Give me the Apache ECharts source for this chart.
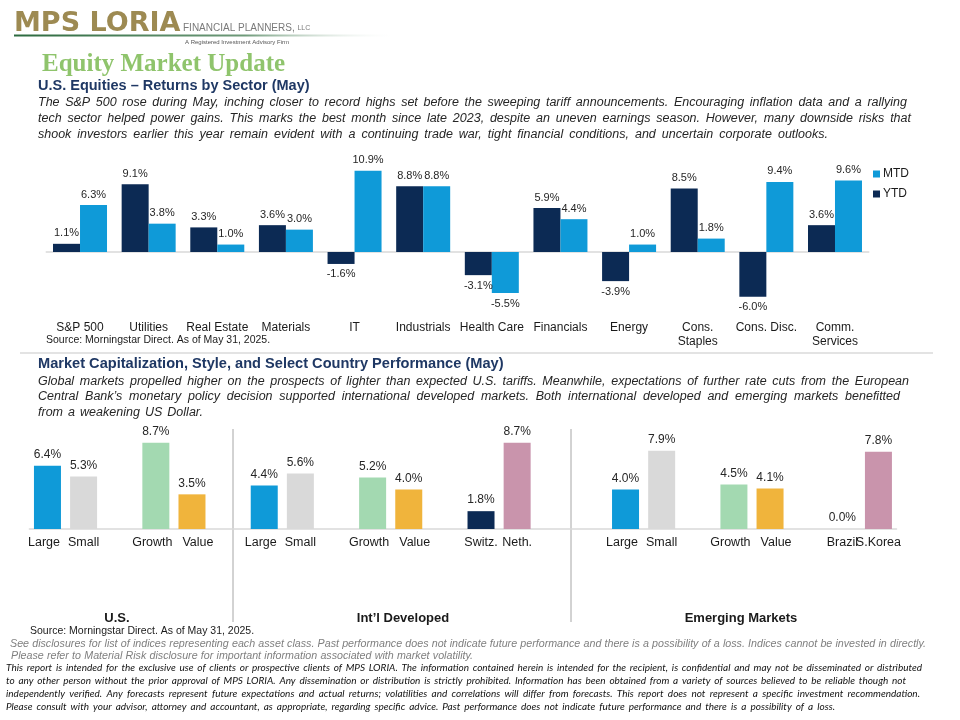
<!DOCTYPE html>
<html><head><meta charset="utf-8">
<script src="https://cdn.jsdelivr.net/npm/echarts/dist/echarts.min.js"></script>
<style>html,body{margin:0;padding:0;background:#fff}#c{width:960px;height:720px}</style>
</head><body><div id="c"></div>
<script>
// ---------------- DATA ----------------
const sectors = ['S&P 500','Utilities','Real Estate','Materials','IT','Industrials','Health Care','Financials','Energy','Cons.\nStaples','Cons. Disc.','Comm.\nServices'];
const ytd = [1.1, 9.1, 3.3, 3.6, -1.6, 8.8, -3.1, 5.9, -3.9, 8.5, -6.0, 3.6];
const mtd = [6.3, 3.8, 1.0, 3.0, 10.9, 8.8, -5.5, 4.4, 1.0, 1.8, 9.4, 9.6];
const styleCats = ['Large','Small','','Growth','Value','','Large','Small','','Growth','Value','','Switz.','Neth.','','','Large','Small','','Growth','Value','','Brazil','S.Korea'];
const styleVals = [6.4, 5.3, null, 8.7, 3.5, null, 4.4, 5.6, null, 5.2, 4.0, null, 1.8, 8.7, null, null, 4.0, 7.9, null, 4.5, 4.1, null, 0.0, 7.8];
const regionLabels = ['U.S.', 'Int\u2019l Developed', 'Emerging Markets'];

// ---------------- TEXT ----------------
const para1 = [
  'The S&P 500 rose during May, inching closer to record highs set before the sweeping tariff announcements. Encouraging inflation data and a rallying',
  'tech sector helped power gains. This marks the best month since late 2023, despite an uneven earnings season. However, many downside risks that',
  'shook investors earlier this year remain evident with a continuing trade war, tight financial conditions, and uncertain corporate outlooks.'
];
const para2 = [
  'Global markets propelled higher on the prospects of lighter than expected U.S. tariffs. Meanwhile, expectations of further rate cuts from the European',
  'Central Bank\u2019s monetary policy decision supported international developed markets. Both international developed and emerging markets benefitted',
  'from a weakening US Dollar.'
];
const greyNote = [
  'See disclosures for list of indices representing each asset class. Past performance does not indicate future performance and there is a possibility of a loss. Indices cannot be invested in directly.',
  'Please refer to Material Risk disclosure for important information associated with market volatility.'
];
const disclaimer = [
  'This report is intended for the exclusive use of clients or prospective clients of MPS LORIA. The information contained herein is intended for the recipient, is confidential and may not be disseminated or distributed',
  'to any other person without the prior approval of MPS LORIA. Any dissemination or distribution is strictly prohibited. Information has been obtained from a variety of sources believed to be reliable though not',
  'independently verified. Any forecasts represent future expectations and actual returns; volatilities and correlations will differ from forecasts. This report does not represent a specific investment recommendation.',
  'Please consult with your advisor, attorney and accountant, as appropriate, regarding specific advice. Past performance does not indicate future performance and there is a possibility of a loss.'
];

// ---------------- STYLE ----------------
const colorByCat = {'Large':'#0f9ad8','Small':'#d9d9d9','Growth':'#a3d9b1','Value':'#f0b43c','Switz.':'#0c2a54','Neth.':'#c994ac','Brazil':'#0c2a54','S.Korea':'#c994ac'};
const SANS = '"Liberation Sans", Arial, sans-serif';
const ctx = document.createElement('canvas').getContext('2d');

function txt(text, x, y, o) {
  o = o || {};
  return {type:'text', x:x, y:y, silent:true, style:{text:text, fontSize:o.size||12, fontFamily:o.family||SANS,
    fontStyle:o.style||'normal', fontWeight:o.weight||'normal', fill:o.color||'#000', align:o.align||'left', verticalAlign:'middle'}};
}
function line(text, x, y, width, o) {
  ctx.font = (o.style||'normal') + ' ' + (o.weight||'normal') + ' ' + o.size + 'px ' + (o.family||SANS);
  const words = text.split(/\s+/);
  const ws = words.map(w => ctx.measureText(w).width);
  const sum = ws.reduce((a,b)=>a+b,0);
  const gap = Math.max(1.5, (width - sum) / (words.length - 1));
  let cx = x; const out = [];
  words.forEach((w,i) => { out.push(txt(w, cx, y, o)); cx += ws[i] + gap; });
  return out;
}

const graphics = [];
// logo
graphics.push({type:'rect', silent:true, shape:{x:14, y:34.5, width:385, height:2},
  style:{fill:new echarts.graphic.LinearGradient(0,0,1,0,[{offset:0,color:'#2c6a3f'},{offset:0.6,color:'#6f9a7a'},{offset:1,color:'rgba(255,255,255,0)'}])}});
graphics.push(txt('MPS LORIA', 14, 24, {size:27, weight:'bold', family:'"DejaVu Sans", sans-serif', color:'#9d8a52'}));
graphics.push({type:'text', x:183, y:28, silent:true, style:{text:'{a|FINANCIAL PLANNERS, }{b|LLC}', verticalAlign:'middle',
  rich:{a:{fontSize:10, fontFamily:'"Liberation Sans Narrow", "Liberation Sans", sans-serif', fill:'#7a7a7a'}, b:{fontSize:7, fontFamily:SANS, fill:'#7a7a7a'}}}});
graphics.push(txt('A Registered Investment Advisory Firm', 185, 42, {size:6, color:'#555', family:'"Liberation Sans Narrow", "Liberation Sans", sans-serif'}));
graphics.push(txt('Equity Market Update', 42, 65, {size:25, weight:'bold', family:'"Liberation Serif", "Times New Roman", serif', color:'#8fc46c'}));
// section 1
graphics.push(txt('U.S. Equities \u2013 Returns by Sector (May)', 38, 86, {size:14.5, weight:'bold', color:'#1f3864'}));
const pO = {size:12.5, style:'italic', color:'#262626'};
[[103,869],[119,873],[135,790]].forEach((p,i)=>graphics.push(...line(para1[i], 38, p[0], p[1], pO)));
graphics.push(txt('Source: Morningstar Direct. As of May 31, 2025.', 46, 340, {size:10.5, color:'#1a1a1a'}));
// separator
graphics.push({type:'line', silent:true, shape:{x1:20, y1:353, x2:933, y2:353}, style:{stroke:'#c8c8c8', lineWidth:1.2}});
// section 2
graphics.push(txt('Market Capitalization, Style, and Select Country Performance (May)', 38, 364, {size:14.6, weight:'bold', color:'#1f3864'}));
[[382,871],[397,862],[413,165]].forEach((p,i)=>graphics.push(...line(para2[i], 38, p[0], p[1], pO)));
// region separators & labels
[233, 571].forEach(x => graphics.push({type:'line', silent:true, shape:{x1:x, y1:429, x2:x, y2:622}, style:{stroke:'#a6a6a6', lineWidth:1}}));
[117, 403, 741].forEach((x,i) => graphics.push(txt(regionLabels[i], x, 618, {size:13, weight:'bold', align:'center', color:'#1a1a1a'})));
// footer
graphics.push(txt('Source: Morningstar Direct. As of May 31, 2025.', 30, 631, {size:10.5, color:'#1a1a1a'}));
const gO = {size:10.7, style:'italic', color:'#7f7f7f'};
graphics.push(...line(greyNote[0], 10, 644, 916, gO));
graphics.push(...line(greyNote[1], 11, 656, 462, gO));
const dO = {size:10, style:'italic', color:'#111', family:'Lato, "Open Sans", sans-serif'};
[[668,916],[681,900],[694,914],[707,829]].forEach((p,i)=>graphics.push(...line(disclaimer[i], 6, p[0], p[1], dO)));

const pct = p => (p.value == null ? '' : Number(p.value).toFixed(1) + '%');
const signLbl = v => ({value:v, label:{position: v < 0 ? 'bottom' : 'top'}});
const catLabel = v => (v === 'Large' || v === 'Growth') ? '{l|' + v + '}' : (v === 'Value' ? '{r|' + v + '}' : '{n|' + v + '}');

const option = {
  animation:false,
  backgroundColor:'#fff',
  textStyle:{fontFamily:SANS},
  legend:{data:['MTD','YTD'], orient:'vertical', left:868, top:163, itemWidth:7, itemHeight:7, itemGap:8,
    icon:'rect', textStyle:{fontSize:12, color:'#1a1a1a', padding:[0,0,0,-2]}, selectedMode:false},
  grid:[
    {left:45.7, width:823.6, top:162.5, height:149.2},
    {left:29.4, width:867.1, top:430, height:99}
  ],
  xAxis:[
    {gridIndex:0, type:'category', data:sectors, axisLine:{show:false}, axisTick:{show:false},
      axisLabel:{interval:0, fontSize:12, color:'#1a1a1a', margin:9, lineHeight:14}},
    {gridIndex:1, type:'category', data:styleCats, axisLine:{show:true, lineStyle:{color:'#d9d9d9', width:1.5}}, axisTick:{show:false},
      axisLabel:{interval:0, fontSize:12.5, color:'#1a1a1a', margin:7, formatter:catLabel,
        rich:{l:{fontSize:12.5, color:'#1a1a1a', padding:[0,7,0,0]}, r:{fontSize:12.5, color:'#1a1a1a', padding:[0,0,0,12]}, n:{fontSize:12.5, color:'#1a1a1a'}}}}
  ],
  yAxis:[
    {gridIndex:0, type:'value', min:-8, max:12, show:false, splitLine:{show:false}},
    {gridIndex:1, type:'value', min:0, max:10, show:false, splitLine:{show:false}}
  ],
  series:[
    {name:'YTD', type:'bar', xAxisIndex:0, yAxisIndex:0, data:ytd.map(signLbl), barWidth:27, barGap:'0%',
      itemStyle:{color:'#0c2a54'}, label:{show:true, formatter:pct, fontSize:11, color:'#262626', distance:5},
      markLine:{silent:true, symbol:'none', label:{show:false}, lineStyle:{color:'#d9d9d9', type:'solid', width:1.5}, data:[{yAxis:0}], z:1}},
    {name:'MTD', type:'bar', xAxisIndex:0, yAxisIndex:0, data:mtd.map(signLbl), barWidth:27, barGap:'0%',
      itemStyle:{color:'#0f9ad8'}, label:{show:true, formatter:pct, fontSize:11, color:'#262626', distance:5}},
    {name:'Style', type:'bar', xAxisIndex:1, yAxisIndex:1, barWidth:27,
      data:styleVals.map((v,i)=>({value:v, itemStyle:{color:colorByCat[styleCats[i]] || '#999'}})),
      label:{show:true, position:'top', formatter:pct, fontSize:12, color:'#262626', distance:5}}
  ],
  graphic:graphics
};
const chart = echarts.init(document.getElementById('c'), null, {renderer:'canvas'});
chart.setOption(option);
</script></body></html>
